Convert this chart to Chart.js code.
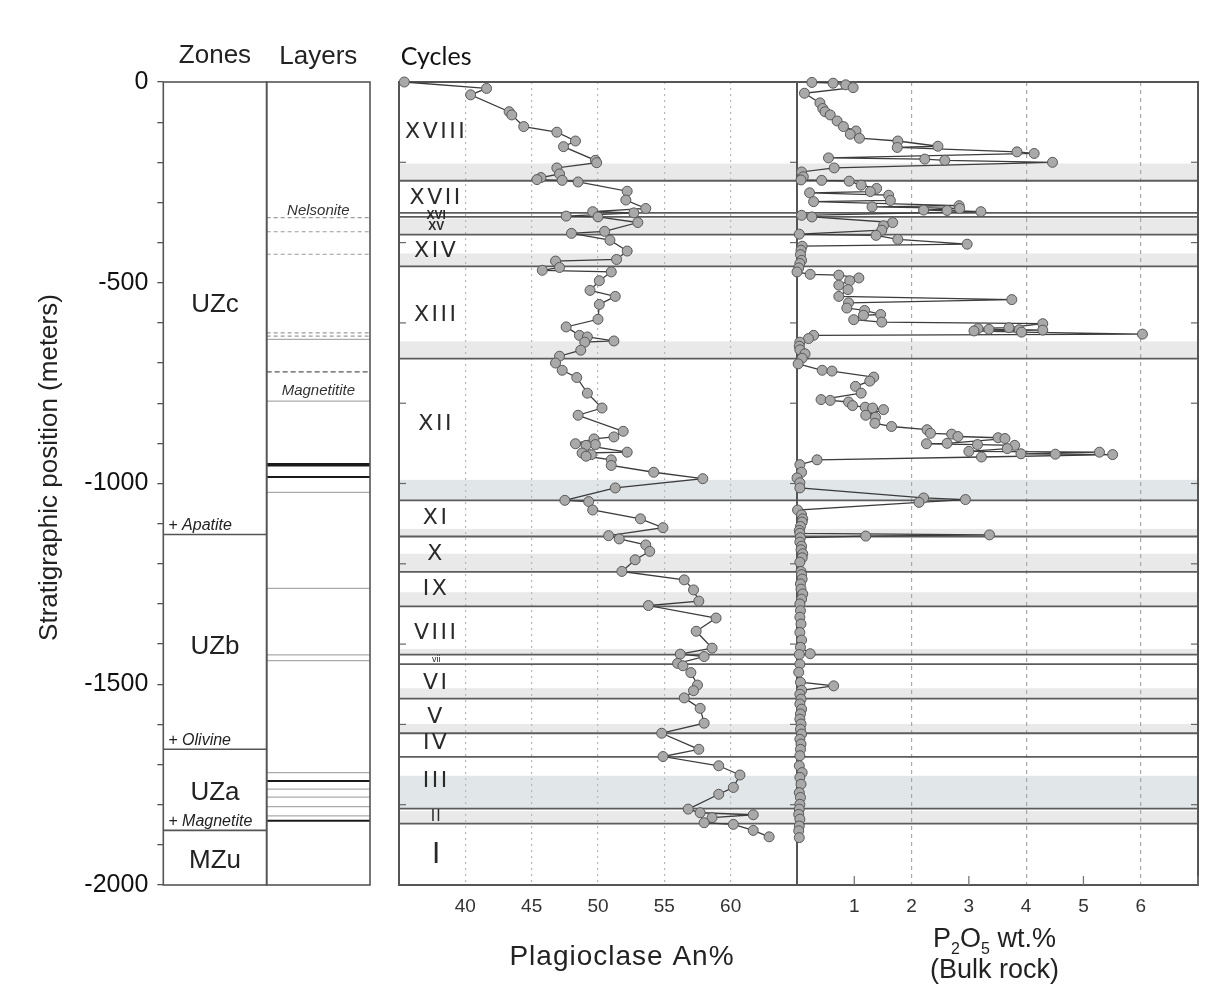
<!DOCTYPE html>
<html>
<head>
<meta charset="utf-8">
<script src="https://cdn.jsdelivr.net/npm/chart.js@4"></script>
<style>
  html, body { margin: 0; padding: 0; background: #fff; }
  #wrap { position: relative; width: 1208px; height: 986px; }
  #wrap canvas { position: absolute; left: 0; top: 0; }
</style>
</head>
<body>
<div id="wrap">
  <canvas id="strat" width="1208" height="986"></canvas>
  <canvas id="an" width="1208" height="986"></canvas>
  <canvas id="p2o5" width="1208" height="986"></canvas>
</div>
<script>
// stratigraphic position (m) and plagioclase An% of each sample
const anPos = [0,-16,-32,-74,-82,-111,-125,-147,-161,-195,
  -201,-214,-229,-238,-243,-245,-249,-272,-294,-315,
  -323,-326,-334,-336,-350,-372,-377,-394,-421,-442,
  -446,-462,-469,-473,-495,-519,-534,-554,-591,-610,
  -631,-635,-645,-648,-668,-683,-700,-718,-736,-775,
  -812,-830,-870,-884,-889,-901,-903,-905,-922,-924,
  -928,-932,-941,-955,-972,-988,-1011,-1042,-1045,-1066,
  -1088,-1110,-1130,-1138,-1153,-1169,-1190,-1219,-1240,-1265,
  -1293,-1304,-1335,-1368,-1410,-1425,-1431,-1448,-1454,-1471,
  -1502,-1516,-1534,-1560,-1597,-1622,-1662,-1680,-1703,-1726,
  -1757,-1774,-1811,-1820,-1825,-1832,-1845,-1849,-1864,-1880];
const anVal = [35.4,41.6,40.4,43.3,43.5,44.4,46.9,48.3,47.4,49.8,
  49.9,46.9,47.1,45.7,45.4,47.3,48.5,52.2,52.1,53.6,
  49.6,52.7,47.6,50.0,53.0,50.5,48.0,50.9,52.2,51.4,
  46.8,47.1,45.8,51.0,50.1,49.4,51.3,50.1,50.0,47.6,
  48.6,49.2,51.2,49.0,48.7,47.1,46.8,47.3,48.4,49.2,
  50.3,48.5,51.9,51.2,49.7,48.3,49.8,49.1,52.2,48.8,
  49.5,49.1,51.0,51.0,54.2,57.9,51.3,47.5,49.3,49.6,
  53.2,54.9,50.8,51.6,53.6,53.9,52.8,51.8,56.5,57.2,
  57.6,53.8,58.9,57.4,58.6,56.2,58.0,56.0,56.4,57.0,
  57.5,57.2,56.5,57.7,58.0,54.8,57.6,54.9,59.1,60.7,
  60.2,59.1,56.8,57.7,61.7,58.6,58.0,60.2,61.7,62.9];

// stratigraphic position (m) and bulk-rock P2O5 wt.%
const pPos = [-1,-3,-7,-14,-28,-52,-66,-74,-82,-97,
  -111,-122,-130,-140,-147,-160,-163,-174,-178,-189,
  -192,-195,-200,-214,-224,-236,-244,-245,-247,-257,
  -265,-273,-276,-282,-295,-298,-308,-311,-315,-319,
  -320,-323,-332,-336,-350,-358,-369,-379,-382,-392,
  -404,-409,-419,-430,-444,-452,-463,-473,-479,-481,
  -488,-495,-506,-517,-534,-542,-550,-563,-569,-579,
  -581,-592,-598,-602,-612,-614,-616,-617,-618,-620,
  -623,-628,-631,-639,-648,-658,-667,-677,-688,-702,
  -718,-720,-735,-745,-758,-775,-791,-793,-797,-806,
  -810,-812,-816,-830,-835,-850,-858,-866,-875,-877,
  -883,-886,-888,-900,-901,-903,-905,-913,-920,-922,
  -926,-927,-928,-934,-941,-953,-972,-986,-998,-1011,
  -1036,-1040,-1047,-1066,-1078,-1088,-1096,-1107,-1117,-1124,
  -1128,-1131,-1135,-1146,-1156,-1165,-1175,-1185,-1196,-1219,
  -1227,-1238,-1250,-1263,-1275,-1288,-1300,-1317,-1333,-1350,
  -1371,-1390,-1408,-1424,-1426,-1450,-1470,-1495,-1504,-1515,
  -1525,-1537,-1549,-1562,-1574,-1587,-1599,-1612,-1624,-1637,
  -1649,-1662,-1678,-1703,-1720,-1732,-1749,-1770,-1782,-1799,
  -1811,-1824,-1836,-1853,-1865,-1882];
const pVal = [0.26,0.63,0.85,0.98,0.13,0.40,0.45,0.49,0.58,0.70,
  0.81,1.03,0.93,1.09,1.76,2.46,1.75,3.84,4.14,0.55,
  2.23,2.58,4.46,0.65,0.08,0.11,0.07,0.43,0.91,1.12,
  1.39,1.28,0.22,1.60,1.63,0.29,2.83,1.31,2.84,2.21,
  2.62,3.21,0.08,0.26,1.67,1.51,1.48,0.04,1.38,1.76,
  2.97,0.09,0.07,0.06,0.08,0.05,0.03,0.00,0.23,0.73,
  1.08,0.92,0.73,0.89,0.73,3.75,0.90,0.87,1.18,1.46,
  1.16,0.99,1.48,4.29,3.70,3.16,3.35,3.88,4.29,3.09,
  3.92,6.03,0.29,0.20,0.05,0.04,0.05,0.14,0.09,0.02,
  0.44,0.61,1.34,1.27,1.02,1.12,0.42,0.58,0.90,0.97,
  1.19,1.32,1.51,1.20,1.37,1.36,1.65,2.27,2.33,2.70,
  2.81,3.51,3.63,2.62,2.26,3.15,3.80,3.67,3.00,5.28,
  3.91,4.51,5.51,3.22,0.35,0.05,0.08,0.00,0.05,0.05,
  2.21,2.94,2.13,0.01,0.08,0.10,0.09,0.06,0.04,0.05,
  3.36,1.20,0.06,0.05,0.08,0.07,0.10,0.09,0.05,0.07,
  0.08,0.09,0.06,0.07,0.10,0.08,0.05,0.06,0.05,0.07,
  0.05,0.08,0.06,0.23,0.04,0.05,0.03,0.06,0.64,0.08,
  0.05,0.07,0.05,0.08,0.06,0.05,0.07,0.06,0.08,0.05,
  0.07,0.06,0.05,0.04,0.09,0.05,0.07,0.04,0.06,0.05,
  0.04,0.03,0.05,0.04,0.03,0.04];

// zones column
const zoneNames = ['UZc', 'UZb', 'UZa', 'MZu'];
const zoneTops = [0, -1127, -1662, -1864];
const zoneBase = -2000;
const zoneLabelPos = [-556, -1406, -1770, -1940];
const zoneMarkers = ['+ Apatite', '+ Olivine', '+ Magnetite'];
const zoneMarkerPos = [-1127, -1662, -1864];

// layers column
const layerDashed = [-338, -373, -429, -625, -633];
const layerDashedDark = [-722];
const layerThin = [-641, -795, -1022, -1261, -1427, -1441, -1720, -1761, -1781, -1805, -1828];
const layerBold = [-953, -984, -1741, -1840];
const layerNames = ['Nelsonite', 'Magnetitite'];
const layerNamePos = [-322, -770];

// cycles
const cycleNames = ['XVIII','XVII','XVI','XV','XIV','XIII','XII','XI','X','IX','VIII','vii','VI','V','IV','III','II','I'];
const cycleNamePos = [-125,-289,-333,-361,-421,-581,-853,-1087,-1177,-1264,-1372,-1439,-1498,-1583,-1648,-1741,-1830,-1928];
const cycleBounds = [-246,-326,-336,-380,-459,-689,-1042,-1132,-1220,-1306,-1426,-1450,-1536,-1622,-1681,-1810,-1847];
const greyBands = [[-203,-245],[-340,-380],[-427,-459],[-646,-688],[-1113,-1132],[-1175,-1219],
  [-1271,-1305],[-1412,-1426],[-1510,-1535],[-1599,-1621],[-1816,-1846]];
const blueBands = [[-991,-1041],[-1728,-1809]];

const SANS = '"Liberation Sans", Arial, sans-serif';

function hline(ctx, x1, x2, y, color, width, dash) {
  ctx.save();
  ctx.strokeStyle = color;
  ctx.lineWidth = width;
  ctx.setLineDash(dash || []);
  ctx.beginPath();
  ctx.moveTo(x1, y);
  ctx.lineTo(x2, y);
  ctx.stroke();
  ctx.restore();
}

function text(ctx, str, x, y, font, align, color) {
  ctx.save();
  ctx.font = font;
  ctx.textAlign = align || 'center';
  ctx.textBaseline = 'middle';
  ctx.fillStyle = color || '#222';
  ctx.fillText(str, x, y);
  ctx.restore();
}

// ---------- zones / layers column ----------
const stratColumn = {
  id: 'stratColumn',
  afterDraw(chart) {
    const { ctx, chartArea: a, scales: { x, y } } = chart;
    const x0 = x.getPixelForValue(0), x1 = x.getPixelForValue(1), x2 = x.getPixelForValue(2);
    const top = y.getPixelForValue(0), bot = y.getPixelForValue(zoneBase);

    layerThin.forEach(p => hline(ctx, x1, x2, y.getPixelForValue(p), '#ababab', 1.2));
    layerDashed.forEach(p => hline(ctx, x1, x2, y.getPixelForValue(p), '#9a9a9a', 1.2, [4, 3]));
    layerDashedDark.forEach(p => hline(ctx, x1, x2, y.getPixelForValue(p), '#555', 1.4, [5, 3]));
    layerBold.forEach((p, i) => hline(ctx, x1, x2, y.getPixelForValue(p), '#1a1a1a', i === 0 ? 3.5 : 2));
    zoneTops.slice(1).forEach(p => hline(ctx, x0, x1, y.getPixelForValue(p), '#555', 1.6));

    ctx.save();
    ctx.strokeStyle = '#555';
    ctx.lineWidth = 1.6;
    ctx.strokeRect(x0, top, x1 - x0, bot - top);
    ctx.strokeRect(x1, top, x2 - x1, bot - top);
    ctx.restore();

    zoneNames.forEach((n, i) => text(ctx, n, (x0 + x1) / 2, y.getPixelForValue(zoneLabelPos[i]), '26px ' + SANS));
    zoneMarkers.forEach((n, i) => {
      ctx.save();
      ctx.font = 'italic 16px ' + SANS;
      ctx.textAlign = 'left';
      ctx.textBaseline = 'alphabetic';
      ctx.fillStyle = '#222';
      ctx.fillText(n, x0 + 5, y.getPixelForValue(zoneMarkerPos[i]) - 4);
      ctx.restore();
    });
    layerNames.forEach((n, i) => text(ctx, n, (x1 + x2) / 2, y.getPixelForValue(layerNamePos[i]), 'italic 15px ' + SANS, 'center', '#333'));

    text(ctx, 'Zones', (x0 + x1) / 2, a.top - 26, '26px ' + SANS);
    text(ctx, 'Layers', (x1 + x2) / 2, a.top - 25, '26px ' + SANS);

    ctx.save();
    ctx.translate(a.left - 113, (a.top + a.bottom) / 2 - 16);
    ctx.rotate(-Math.PI / 2);
    text(ctx, 'Stratigraphic position (meters)', 0, 0, '26px ' + SANS);
    ctx.restore();
  }
};

new Chart(document.getElementById('strat'), {
  type: 'scatter',
  data: { datasets: [] },
  plugins: [stratColumn],
  options: {
    responsive: false,
    animation: false,
    events: [],
    layout: { padding: { left: 30, right: 838, top: 82, bottom: 101 } },
    plugins: { legend: { display: false }, tooltip: { enabled: false } },
    scales: {
      x: { type: 'linear', min: 0, max: 2, display: false },
      y: {
        type: 'linear', min: -2000, max: 0, position: 'left',
        afterFit: s => { s.width = 133.3; },
        ticks: {
          stepSize: 100,
          autoSkip: false,
          padding: 9,
          color: '#111',
          font: { family: SANS, size: 25 },
          callback: v => (v % 500 === 0 ? v : '')
        },
        grid: { drawOnChartArea: false, tickLength: 6, color: '#555', lineWidth: 1.3 },
        border: { display: false }
      }
    }
  }
});

// ---------- shared cycle bands ----------
const cycleBands = {
  id: 'cycleBands',
  beforeDraw(chart) {
    const { ctx, chartArea: a, scales: { y } } = chart;
    ctx.save();
    ctx.fillStyle = '#e9e9e9';
    greyBands.forEach(([t, b]) => {
      const p1 = y.getPixelForValue(t), p2 = y.getPixelForValue(b);
      ctx.fillRect(a.left, p1, a.right - a.left, p2 - p1);
    });
    ctx.fillStyle = '#e1e6e8';
    blueBands.forEach(([t, b]) => {
      const p1 = y.getPixelForValue(t), p2 = y.getPixelForValue(b);
      ctx.fillRect(a.left, p1, a.right - a.left, p2 - p1);
    });
    ctx.restore();
  },
  beforeDatasetsDraw(chart, args, opts) {
    const { ctx, chartArea: a, scales: { y } } = chart;
    cycleBounds.forEach(p => hline(ctx, a.left, a.right, y.getPixelForValue(p), '#5c5c5c', 1.8));

    ctx.save();
    ctx.strokeStyle = '#666';
    ctx.lineWidth = 1.2;
    for (let v = y.max - 200; v > y.min; v -= 200) {
      const py = y.getPixelForValue(v);
      if (opts.left) { ctx.beginPath(); ctx.moveTo(a.left, py); ctx.lineTo(a.left + 7, py); ctx.stroke(); }
      if (opts.right) { ctx.beginPath(); ctx.moveTo(a.right, py); ctx.lineTo(a.right - 7, py); ctx.stroke(); }
    }
    ctx.strokeStyle = '#555';
    ctx.lineWidth = 2;
    ctx.strokeRect(a.left, a.top, a.right - a.left, a.bottom - a.top);
    ctx.restore();
  }
};

const seriesStyle = {
  showLine: true,
  borderColor: '#3c3c3c',
  borderWidth: 1.3,
  pointRadius: 5,
  pointHoverRadius: 5,
  pointBackgroundColor: '#a9a9a9',
  pointBorderColor: '#585858',
  pointBorderWidth: 1,
  clip: false
};

// ---------- plagioclase An% ----------
const cycleLabelAn = 37.8;

const anLabels = {
  id: 'anLabels',
  beforeDatasetsDraw(chart) {
    const { ctx, scales: { x, y } } = chart;
    const px = x.getPixelForValue(cycleLabelAn);
    cycleNames.forEach((n, i) => {
      let font = '22px "DejaVu Sans", sans-serif';
      let spacing = '2.5px';
      if (n === 'XVI' || n === 'XV') { font = 'bold 12px "Liberation Sans Narrow", ' + SANS; spacing = '0px'; }
      if (n === 'vii') { font = '9px ' + SANS; spacing = '0px'; }
      if (n === 'II') { font = '15px "DejaVu Sans", sans-serif'; spacing = '1px'; }
      if (n === 'I') { font = '28px "DejaVu Sans", sans-serif'; spacing = '0px'; }
      ctx.save();
      ctx.letterSpacing = spacing;
      text(ctx, n, px, y.getPixelForValue(cycleNamePos[i]), font, 'center', '#2a2a2a');
      ctx.restore();
    });
  },
  afterDraw(chart) {
    const { ctx, chartArea: a, scales: { x } } = chart;
    text(ctx, 'Cycles', x.getPixelForValue(cycleLabelAn), a.top - 25, '25px Lato, "Open Sans", sans-serif', 'center', '#111');
    ctx.save();
    ctx.letterSpacing = '1px';
    text(ctx, 'Plagioclase An%', (a.left + a.right) / 2 + 24, a.bottom + 72, '28px ' + SANS, 'center', '#222');
    ctx.restore();
  }
};

new Chart(document.getElementById('an'), {
  type: 'scatter',
  data: {
    datasets: [Object.assign({ data: anPos.map((p, i) => ({ x: anVal[i], y: p })) }, seriesStyle)]
  },
  plugins: [cycleBands, anLabels],
  options: {
    responsive: false,
    animation: false,
    events: [],
    layout: { padding: { left: 399, right: 411, top: 82, bottom: 0 } },
    plugins: {
      legend: { display: false },
      tooltip: { enabled: false },
      cycleBands: { left: true, right: true }
    },
    scales: {
      x: {
        type: 'linear', min: 35, max: 65, position: 'bottom',
        afterFit: s => { s.height = 101; },
        ticks: {
          stepSize: 5, autoSkip: false, maxRotation: 0, padding: 10,
          color: '#333', font: { family: SANS, size: 19 },
          callback: v => (v >= 40 && v <= 60 ? v : '')
        },
        grid: {
          drawTicks: false, lineWidth: 1.2,
          color: c => (c.tick && c.tick.value >= 40 && c.tick.value <= 60 ? '#b8b8b8' : 'rgba(0,0,0,0)')
        },
        border: { display: false, dash: [2, 4] }
      },
      y: { type: 'linear', min: -2000, max: 0, display: false }
    }
  }
});

// ---------- P2O5 ----------
const pLabels = {
  id: 'pLabels',
  beforeDatasetsDraw(chart) {
    const { ctx, chartArea: a, scales: { x } } = chart;
    ctx.save();
    ctx.strokeStyle = '#777';
    ctx.lineWidth = 1.3;
    x.ticks.forEach(t => {
      if (t.value % 2 === 1) {
        const px = x.getPixelForValue(t.value);
        ctx.beginPath();
        ctx.moveTo(px, a.bottom);
        ctx.lineTo(px, a.bottom - 9);
        ctx.stroke();
      }
    });
    ctx.restore();
  },
  afterDraw(chart) {
    const { ctx, chartArea: a } = chart;
    const cx = (a.left + a.right) / 2 - 3;
    const base = a.bottom + 62;
    const big = '27px ' + SANS, small = '16px ' + SANS;
    const parts = [['P', big, 0], ['2', small, 7], ['O', big, 0], ['5', small, 7], [' wt.%', big, 0]];
    ctx.save();
    ctx.fillStyle = '#222';
    ctx.textBaseline = 'alphabetic';
    ctx.textAlign = 'left';
    let w = 0;
    parts.forEach(([s, f]) => { ctx.font = f; w += ctx.measureText(s).width; });
    let px = cx - w / 2;
    parts.forEach(([s, f, dy]) => {
      ctx.font = f;
      ctx.fillText(s, px, base + dy);
      px += ctx.measureText(s).width;
    });
    ctx.font = big;
    ctx.textAlign = 'center';
    ctx.fillText('(Bulk rock)', cx, base + 31);
    ctx.restore();
  }
};

new Chart(document.getElementById('p2o5'), {
  type: 'scatter',
  data: {
    datasets: [Object.assign({ data: pPos.map((p, i) => ({ x: pVal[i], y: p })) }, seriesStyle)]
  },
  plugins: [cycleBands, pLabels],
  options: {
    responsive: false,
    animation: false,
    events: [],
    layout: { padding: { left: 797, right: 9, top: 82, bottom: 0 } },
    plugins: {
      legend: { display: false },
      tooltip: { enabled: false },
      cycleBands: { left: false, right: true }
    },
    scales: {
      x: {
        type: 'linear', min: 0, max: 7, position: 'bottom',
        afterFit: s => { s.height = 101; },
        ticks: {
          stepSize: 1, autoSkip: false, maxRotation: 0, padding: 10,
          color: '#333', font: { family: SANS, size: 19 },
          callback: v => (v >= 1 && v <= 6 ? v : '')
        },
        grid: {
          drawTicks: false, lineWidth: 1.2,
          color: c => (c.tick && c.tick.value > 0 && c.tick.value < 7 && c.tick.value % 2 === 0 ? '#a8a8a8' : 'rgba(0,0,0,0)')
        },
        border: { display: false, dash: [4, 4] }
      },
      y: { type: 'linear', min: -2000, max: 0, display: false }
    }
  }
});
</script>
</body>
</html>
